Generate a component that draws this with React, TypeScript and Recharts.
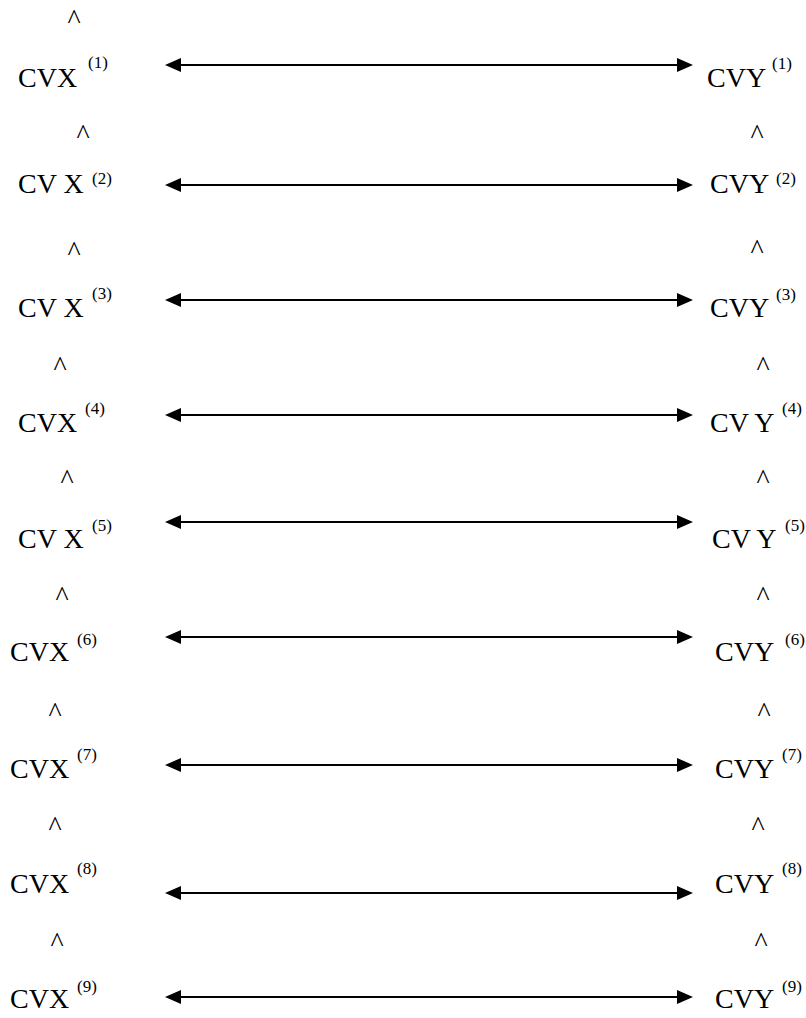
import React from 'react';
import { ScatterChart, Scatter, XAxis, YAxis, ReferenceLine } from 'recharts';

// diagram coordinates (chart units = px of the 806x1018 canvas, y grows downward)
const rowTags = ['(1)', '(2)', '(3)', '(4)', '(5)', '(6)', '(7)', '(8)', '(9)'];
const leftNames = ['CVX', 'CV X', 'CV X', 'CVX', 'CV X', 'CVX', 'CVX', 'CVX', 'CVX'];
const rightNames = ['CVY', 'CVY', 'CVY', 'CV Y', 'CV Y', 'CVY', 'CVY', 'CVY', 'CVY'];

const arrowY = [65, 185, 300, 415, 522, 637, 765, 893, 997];
const arrowLeft = 165;
const arrowRight = 693;

const leftNameX = [18, 18, 18, 18, 18, 10, 10, 10, 10];
const rightNameX = [707, 710, 710, 710, 712, 715, 715, 715, 715];
const nameBaseY = [87, 193, 317, 432, 548, 661, 778, 893, 1008];

const leftTagX = [88, 92, 92, 85, 92, 77, 77, 77, 77];
const rightTagX = [772, 776, 776, 782, 785, 785, 782, 782, 782];
const leftTagY = [68, 184, 299, 414, 531, 645, 760, 874, 992];
const rightTagY = [69, 184, 300, 414, 531, 645, 760, 874, 992];

// carets "^" above the labels
const leftCaretX = [74, 83, 74, 60, 67, 62, 55, 55, 57];
const leftCaretY = [28, 143, 260, 375, 488, 605, 721, 835, 951];
const rightCaretX = [757, 757, 763, 763, 763, 764, 758, 761];
const rightCaretY = [143, 258, 375, 488, 605, 721, 835, 951];

const W = 806;
const H = 1018;
const FONT = '"Liberation Serif", "Times New Roman", serif';

const names = [
  ...leftNames.map((t, i) => ({ x: leftNameX[i], y: nameBaseY[i], t })),
  ...rightNames.map((t, i) => ({ x: rightNameX[i], y: nameBaseY[i], t })),
];
const tags = [
  ...rowTags.map((t, i) => ({ x: leftTagX[i], y: leftTagY[i], t })),
  ...rowTags.map((t, i) => ({ x: rightTagX[i], y: rightTagY[i], t })),
];
const carets = [
  ...leftCaretX.map((x, i) => ({ x, y: leftCaretY[i], t: '^' })),
  ...rightCaretX.map((x, i) => ({ x, y: rightCaretY[i], t: '^' })),
];

const textShape = (size: number, anchor: 'start' | 'middle') => (props: any) => (
  <text
    x={props.cx}
    y={props.cy}
    fontFamily={FONT}
    fontSize={size}
    fill="#000"
    textAnchor={anchor}
  >
    {props.payload.t}
  </text>
);

const DoubleArrow = (props: any) => {
  const { x1, y1, x2 } = props;
  const head = 16;
  const half = 7;
  return (
    <g>
      <line x1={x1 + head - 2} y1={y1} x2={x2 - head + 2} y2={y1} stroke="#000" strokeWidth={2} />
      <polygon points={`${x1},${y1} ${x1 + head},${y1 - half} ${x1 + head},${y1 + half}`} fill="#000" />
      <polygon points={`${x2},${y1} ${x2 - head},${y1 - half} ${x2 - head},${y1 + half}`} fill="#000" />
    </g>
  );
};

export default function App() {
  return (
    <div style={{ position: 'absolute', left: 0, top: 0, width: W, height: H, background: '#fff' }}>
      <ScatterChart width={W} height={H} margin={{ top: 0, right: 0, bottom: 0, left: 0 }}>
        <XAxis type="number" dataKey="x" domain={[0, W]} hide />
        <YAxis type="number" dataKey="y" domain={[0, H]} reversed hide />
        {arrowY.map((y, i) => (
          <ReferenceLine
            key={i}
            segment={[{ x: arrowLeft, y }, { x: arrowRight, y }]}
            shape={DoubleArrow}
          />
        ))}
        <Scatter data={names} shape={textShape(28, 'start')} isAnimationActive={false} />
        <Scatter data={tags} shape={textShape(17, 'start')} isAnimationActive={false} />
        <Scatter data={carets} shape={textShape(28, 'middle')} isAnimationActive={false} />
      </ScatterChart>
    </div>
  );
}
